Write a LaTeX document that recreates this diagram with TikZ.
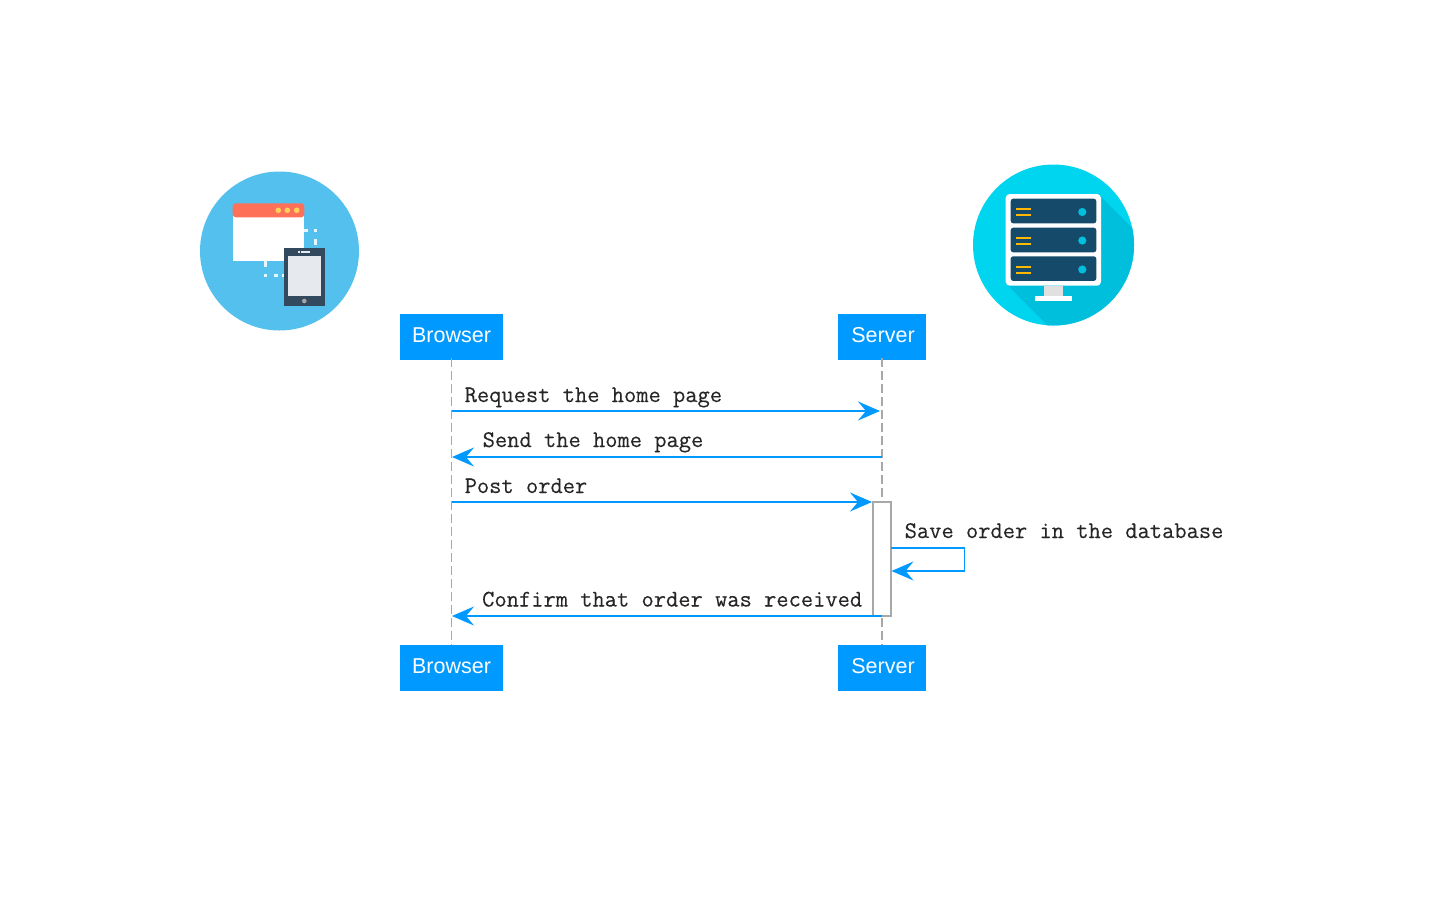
\documentclass[tikz,border=0pt]{standalone}
\usepackage{fontspec}
\setsansfont{Liberation Sans}
\setmonofont[FakeBold=0.25]{Latin Modern Mono}
\usetikzlibrary{arrows.meta}
\definecolor{seqblue}{HTML}{0099FF}
\definecolor{lifegrey}{HTML}{A8A8A8}
\definecolor{browserbg}{HTML}{54C0EE}
\definecolor{winhead}{HTML}{FF7058}
\definecolor{winyellow}{HTML}{FFD15C}
\definecolor{tabletdark}{HTML}{334A5E}
\definecolor{tabletscreen}{HTML}{E6E9EE}
\definecolor{serverbg}{HTML}{00D5F0}
\definecolor{servershade}{HTML}{00BFDC}
\definecolor{rack}{HTML}{164A6A}
\definecolor{rackline}{HTML}{FFB700}
\tikzset{
  actor/.style={fill=seqblue,text=white,inner sep=0pt,font=\sffamily\fontsize{21pt}{24pt}\selectfont},
  actortext/.style={text=white,inner sep=0pt,font=\sffamily\fontsize{21.5pt}{24pt}\selectfont},
  lifeline/.style={draw=lifegrey,line width=1.5pt,dash pattern=on 9pt off 4pt},
  msg/.style={draw=seqblue,line width=1.5pt,-{Stealth[length=22pt,width=19pt,inset=8pt]}},
  msglabel/.style={anchor=base west,inner sep=0pt,text=black!85,font=\ttfamily\fontsize{23.8pt}{26pt}\selectfont},
  activation/.style={draw=lifegrey,fill=white,line width=1.3pt},
  dashbit/.style={draw=white!85!browserbg,line width=3.2pt}
}
\begin{document}
\begin{tikzpicture}[x=1pt,y=-1pt]
\useasboundingbox (0,0) rectangle (1440,900);
% browser icon
\fill[browserbg] (279.5,251) circle (79.5);
\draw[dashbit] (304,230.7) -- (308,230.7);
\draw[dashbit] (313.7,230.7) -- (316.7,230.7);
\draw[dashbit] (315.3,238.5) -- (315.3,245);
\draw[dashbit] (265.3,261) -- (265.3,266.5);
\draw[dashbit] (264,275.5) -- (267,275.5);
\draw[dashbit] (273.5,275.7) -- (278,275.7);
\draw[dashbit] (281.5,275.7) -- (284,275.7);
\fill[white] (232.7,215) rectangle (304.3,261);
\fill[winhead,rounded corners=3pt] (232.7,217.3) -- (232.7,203.3) -- (304.3,203.3) -- (304.3,217.3) -- cycle;
\foreach \px in {278.3,287.3,296.7} \fill[winyellow] (\px,210.3) circle (2.8);
\fill[tabletdark] (284,248.3) rectangle (324.7,305.7);
\fill[tabletscreen] (288,255.7) rectangle (321,296.3);
\fill[black!35] (304.3,301) circle (2.3);
\fill[tabletscreen] (301,251.3) rectangle (310,252.8);
\fill[tabletscreen] (297.7,251.3) rectangle (300,252.8);
% server icon
\fill[serverbg] (1053.5,245) circle (80.5);
\begin{scope}
\clip (1053.5,245) circle (80.5);
\fill[servershade] (1098,194) -- (1140,236) -- (1140,330) -- (1052,330) -- (1008,285.7) -- cycle;
\end{scope}
\fill[white,rounded corners=4pt] (1005.7,194) rectangle (1101,285.7);
\fill[black!12] (1044.3,285.7) rectangle (1062.7,295.7);
\fill[white] (1035,295.7) rectangle (1072.3,301);
\foreach \top/\mid in {198.7/212,227.7/240.5,256.3/269.5}{
  \fill[rack,rounded corners=2.5pt] (1010.7,\top) rectangle (1096.3,\top+24.6);
  \fill[rackline] (1016,\mid-4) rectangle (1031,\mid-2);
  \fill[rackline] (1016,\mid+2) rectangle (1031,\mid+4);
  \fill[servershade] (1082.3,\mid) circle (4.1);
}
% actors
\node[actor,minimum width=103pt,minimum height=46pt] (browsertop) at (451.5,337) {};
\node[actor,minimum width=88pt,minimum height=46pt] (servertop) at (882,337) {};
\node[actor,minimum width=103pt,minimum height=46pt] (browserbot) at (451.5,668) {};
\node[actor,minimum width=88pt,minimum height=46pt] (serverbot) at (882,668) {};
\node[actortext] (browsertoptext) at (451.5,335) {Browser};
\node[actortext] (servertoptext) at (883,335) {Server};
\node[actortext] (browserbottext) at (451.5,666) {Browser};
\node[actortext] (serverbottext) at (883,666) {Server};
\draw[lifeline] ([yshift=2pt]browsertop.south) -- (browserbot.north);
\draw[lifeline] ([yshift=2pt]servertop.south) -- (serverbot.north);
% activation
\node[activation,minimum width=18pt,minimum height=114pt,inner sep=0pt] (act) at (882,559) {};
% message anchors
\coordinate (b1) at (451.5,411);
\coordinate (s1) at (880,411);
\coordinate (s2) at (882,457);
\coordinate (b2) at (452,457);
\coordinate (b3) at (451.5,502);
\coordinate (a3) at (872,502);
\coordinate (a4) at (891,548);
\coordinate (c4) at (964.5,548);
\coordinate (d4) at (964.5,571);
\coordinate (e4) at (891.5,571);
\coordinate (a5) at (882,616);
\coordinate (b5) at (452,616);
\draw[msg] (b1) -- (s1);
\draw[msg] (s2) -- (b2);
\draw[msg] (b3) -- (a3);
\draw[msg] (a4) -- (c4) -- (d4) -- (e4);
\draw[msg] (a5) -- (b5);
% labels
\node[msglabel] (l1) at (464.5,402) {Request the home page};
\node[msglabel] (l2) at (482.5,447) {Send the home page};
\node[msglabel] (l3) at (464.5,493) {Post order};
\node[msglabel] (l4) at (904.5,538) {Save order in the database};
\node[msglabel] (l5) at (482,606.5) {Confirm that order was received};
\end{tikzpicture}
\end{document}
